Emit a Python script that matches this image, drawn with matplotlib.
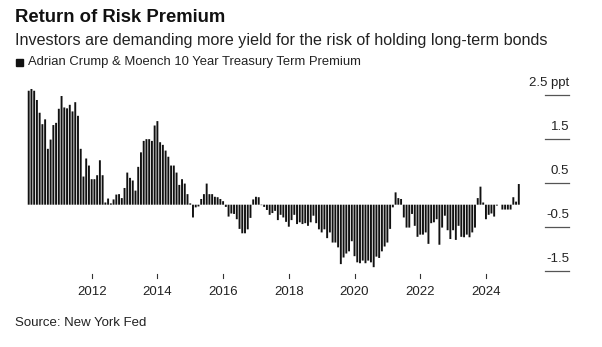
import matplotlib.pyplot as plt
import pandas as pd

plt.rcParams['font.family'] = ['Liberation Sans', 'DejaVu Sans']

# monthly ACM 10y term premium, Feb 2010 .. Jan 2025 (ppt)
months = pd.date_range('2010-02-01', '2025-01-01', freq='MS')
premium = [
    2.59, 2.63, 2.59, 2.38, 2.09, 1.83, 1.94, 1.27, 1.48, 1.81, 1.86,
    2.18, 2.47, 2.21, 2.19, 2.27, 2.12, 2.33, 2.02, 1.27, 0.64, 1.05, 0.89, 0.58,
    0.58, 0.67, 1.01, 0.67, 0.05, 0.14, 0.03, 0.12, 0.23, 0.24, 0.15, 0.38,
    0.73, 0.61, 0.55, 0.32, 0.86, 1.19, 1.45, 1.49, 1.49, 1.45, 1.80, 1.90,
    1.42, 1.36, 1.23, 1.09, 0.89, 0.89, 0.73, 0.45, 0.58, 0.48, 0.24, 0.03,
    -0.29, -0.06, -0.04, 0.13, 0.24, 0.48, 0.24, 0.24, 0.18, 0.17, 0.13, 0.08,
    -0.05, -0.27, -0.20, -0.21, -0.33, -0.55, -0.65, -0.65, -0.56, -0.30, 0.12, 0.18,
    0.17, -0.01, -0.05, -0.12, -0.23, -0.19, -0.14, -0.35, -0.23, -0.29, -0.39, -0.50,
    -0.35, -0.23, -0.44, -0.40, -0.44, -0.42, -0.48, -0.40, -0.25, -0.42, -0.56, -0.63,
    -0.56, -0.76, -0.63, -0.86, -0.86, -0.97, -1.35, -1.20, -1.11, -1.06, -0.83, -1.17,
    -1.31, -1.33, -1.27, -1.33, -1.27, -1.31, -1.42, -1.18, -1.21, -1.06, -0.95, -0.86,
    -0.55, -0.06, 0.28, 0.15, 0.13, -0.29, -0.52, -0.52, -0.21, -0.48, -0.73, -0.68,
    -0.68, -0.63, -0.89, -0.42, -0.40, -0.33, -0.91, -0.52, -0.25, -0.58, -0.78, -0.58,
    -0.80, -0.48, -0.73, -0.74, -0.68, -0.74, -0.63, -0.52, 0.15, 0.41, 0.05, -0.33,
    -0.23, -0.20, -0.27, -0.02, 0.00, -0.11, -0.11, -0.11, -0.11, 0.17, 0.07, 0.47,
]
year_ticks = [2012, 2014, 2016, 2018, 2020, 2022, 2024]
y_ticks = [2.5, 1.5, 0.5, -0.5, -1.5]
y_labels = ['2.5 ppt', '1.5', '0.5', '-0.5', '-1.5']

W, H = 602, 347
fig = plt.figure(figsize=(W / 100, H / 100), dpi=100)

# pixel layout helpers
px = 2.738          # pixels per month
x0_pix = 28.7       # centre of first bar
zero_pix = 204.7    # y of zero line
ppt_pix = 44.0      # pixels per ppt
ax_l, ax_r, ax_t, ax_b = 20, 580, 85, 282
ax = fig.add_axes([ax_l / W, 1 - ax_b / H, (ax_r - ax_l) / W, (ax_b - ax_t) / H])

idx = [(m.year - 2010) * 12 + m.month - 1 for m in months]
ax.bar(idx, premium, width=0.7, color='#111111', linewidth=0, snap=False)

xl = idx[0] - (x0_pix - ax_l) / px
ax.set_xlim(xl, xl + (ax_r - ax_l) / px)
ax.set_ylim((zero_pix - ax_b) / ppt_pix, (zero_pix - ax_t) / ppt_pix)
ax.axis('off')

# right-hand value scale: short rules with labels sitting on them
fx0 = (545 - ax_l) / (ax_r - ax_l)
fx1 = (569 - ax_l) / (ax_r - ax_l)
tr = ax.get_yaxis_transform()
for v, lab in zip(y_ticks, y_labels):
    ax.plot([fx0, fx1], [v, v], transform=tr, color='#555555', lw=0.9, clip_on=False)
    ax.text(fx1, v + 0.12, lab, transform=tr, ha='right', va='bottom',
            fontsize=9.5, color='#222222')

# year ticks and labels below the bars
for yr in year_ticks:
    xi = (yr - 2010) * 12
    ax.plot([xi, xi], [-1.575, -1.66], color='#333333', lw=0.8, clip_on=False)
    ax.text(xi, -1.85, str(yr), ha='center', va='top', fontsize=9.5, color='#222222')

fig.text(15 / W, 1 - 17 / H, 'Return of Risk Premium', fontsize=13.3, fontweight='bold',
         va='center', ha='left', color='#111111')
fig.text(15 / W, 1 - 41 / H,
         'Investors are demanding more yield for the risk of holding long-term bonds',
         fontsize=11.6, va='center', ha='left', color='#222222')
fig.patches.append(plt.Rectangle((16 / W, 1 - 66 / H), 7 / W, 7 / H,
                                 transform=fig.transFigure, color='#111111'))
fig.text(28 / W, 1 - 62.5 / H, 'Adrian Crump & Moench 10 Year Treasury Term Premium',
         fontsize=9.4, va='center', ha='left', color='#222222')
fig.text(15 / W, 1 - 323 / H, 'Source: New York Fed', fontsize=9.5,
         va='center', ha='left', color='#222222')

fig.savefig('out.png', dpi=100)
